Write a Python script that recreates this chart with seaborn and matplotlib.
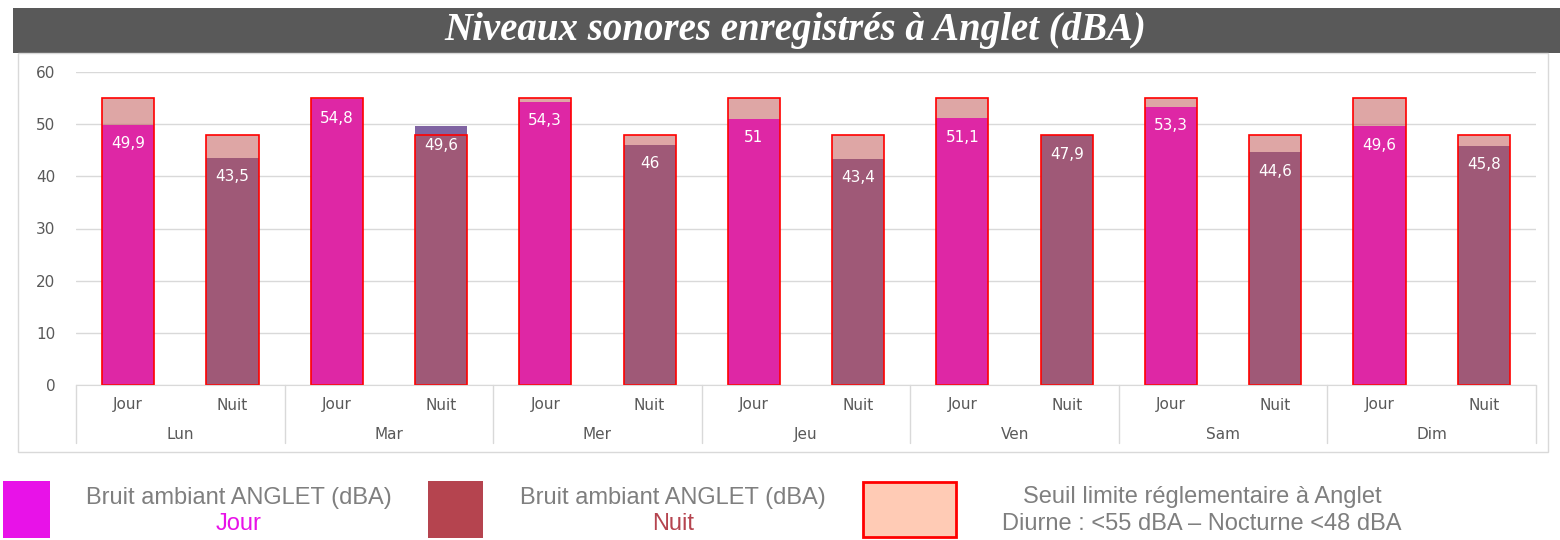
import matplotlib.pyplot as plt
import matplotlib.patches as mpatches
import seaborn as sns
import pandas as pd

days = ['Lun', 'Mar', 'Mer', 'Jeu', 'Ven', 'Sam', 'Dim']
periods = ['Jour', 'Nuit']
jour_values = [49.9, 54.8, 54.3, 51.0, 51.1, 53.3, 49.6]
nuit_values = [43.5, 49.6, 46.0, 43.4, 47.9, 44.6, 45.8]
thresholds = {'Jour': 55, 'Nuit': 48}

title = 'Niveaux sonores enregistrés à Anglet (dBA)'
legend_main = 'Bruit ambiant ANGLET (dBA)'
legend_seuil = ['Seuil limite réglementaire à Anglet',
                'Diurne : <55 dBA \u2013 Nocturne <48 dBA']

rows = []
for d, j, n in zip(days, jour_values, nuit_values):
    rows.append({'day': d, 'period': 'Jour', 'value': j})
    rows.append({'day': d, 'period': 'Nuit', 'value': n})
df = pd.DataFrame(rows)
df['slot'] = df['day'] + ' ' + df['period']
df['seuil'] = df['period'].map(thresholds)

sns.set_style('white')
plt.rcParams['font.family'] = ['DejaVu Sans']

W, H = 1560, 540
fig = plt.figure(figsize=(W / 100, H / 100), dpi=100)

# header band + chart frame
fig.patches.append(mpatches.Rectangle((13 / W, 1 - 53 / H), (W - 13) / W, 45 / H,
                                      facecolor='#595959', edgecolor='none',
                                      transform=fig.transFigure))
fig.patches.append(mpatches.Rectangle((18 / W, 1 - 452 / H), 1530 / W, 399 / H,
                                      fill=False, edgecolor='#d9d9d9', lw=1,
                                      transform=fig.transFigure))
fig.text(795 / W, 1 - 31 / H, title, color='white', ha='center', va='center',
         family='Liberation Serif', style='italic', weight='bold', fontsize=28)

ax = fig.add_axes([76 / W, 1 - 385 / H, 1460 / W, 313 / H])

sns.barplot(data=df, x='slot', y='value', hue='period', hue_order=periods,
            palette={'Jour': '#ff00ff', 'Nuit': '#8064a2'}, dodge=False,
            width=0.5, saturation=1, errorbar=None, legend=False,
            linewidth=0, ax=ax)
sns.barplot(data=df, x='slot', y='seuil', color='#c0504d', width=0.5,
            saturation=1, errorbar=None, edgecolor='#ff0000', linewidth=1.2,
            ax=ax)
for p in ax.containers[-1]:
    p.set_facecolor((0.75, 0.31, 0.30, 0.5))

for cont, vals in zip(ax.containers[:2], [jour_values, nuit_values]):
    labels = [f'{v:g}'.replace('.', ',') for v in vals]
    ax.bar_label(cont, labels=labels, padding=-19, color='white', fontsize=11)

ax.set_xlim(-0.5, 13.5)
ax.set_ylim(0, 60)
ax.set_yticks(range(0, 61, 10))
ax.yaxis.grid(True, color='#d9d9d9', linewidth=1)
ax.set_axisbelow(True)
ax.set_xticks(range(len(df)))
ax.set_xticklabels(df['period'])
ax.tick_params(axis='both', length=0, labelcolor='#595959', labelsize=11)
ax.tick_params(axis='y', pad=15)
ax.tick_params(axis='x', pad=9)
ax.set_xlabel('')
ax.set_ylabel('')
for s in ['top', 'left', 'right']:
    ax.spines[s].set_visible(False)
ax.spines['bottom'].set_color('#d9d9d9')

tr = ax.get_xaxis_transform()
for i, d in enumerate(days):
    ax.text(2 * i + 0.5, -0.157, d, transform=tr, ha='center', va='center',
            color='#595959', fontsize=11)
for k in range(len(days) + 1):
    ax.plot([2 * k - 0.5] * 2, [0, -0.185], transform=tr, clip_on=False,
            color='#d9d9d9', lw=1)

# custom legend
leg_font = dict(family='Liberation Sans', fontsize=17, ha='center', va='center')
fig.patches.append(mpatches.Rectangle((3 / W, 1 - 538 / H), 47 / W, 57 / H,
                                      facecolor='#e812e8', edgecolor='none',
                                      transform=fig.transFigure))
fig.patches.append(mpatches.Rectangle((428 / W, 1 - 538 / H), 55 / W, 57 / H,
                                      facecolor='#b5444f', edgecolor='none',
                                      transform=fig.transFigure))
fig.patches.append(mpatches.Rectangle((863 / W, 1 - 537 / H), 93 / W, 55 / H,
                                      facecolor='#ffcbb5', edgecolor='#ff0000',
                                      lw=2, transform=fig.transFigure))
fig.text(239 / W, 1 - 498 / H, legend_main, color='#7f7f7f', **leg_font)
fig.text(239 / W, 1 - 524 / H, 'Jour', color='#e812e8', **leg_font)
fig.text(673 / W, 1 - 498 / H, legend_main, color='#7f7f7f', **leg_font)
fig.text(673 / W, 1 - 524 / H, 'Nuit', color='#b5444f', **leg_font)
fig.text(1202 / W, 1 - 497 / H, legend_seuil[0], color='#7f7f7f', **leg_font)
fig.text(1202 / W, 1 - 524 / H, legend_seuil[1], color='#7f7f7f', **leg_font)

fig.savefig('out.png', dpi=100)
